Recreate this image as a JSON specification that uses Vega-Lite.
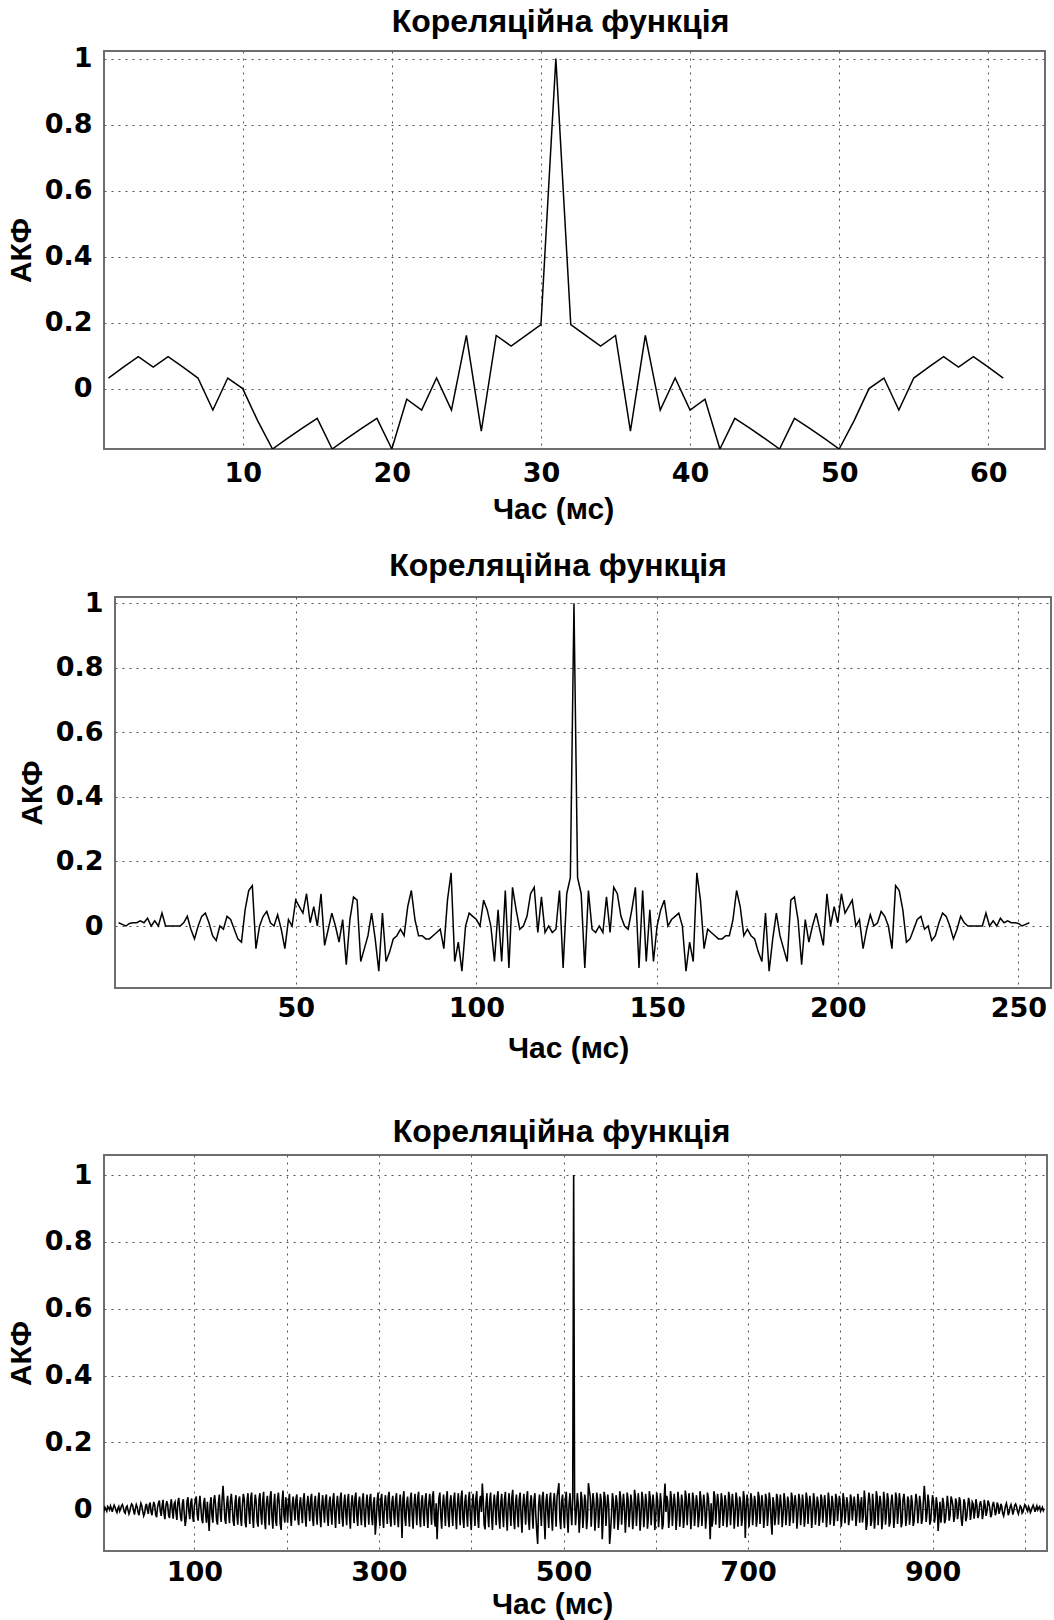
{
"$schema": "https://vega.github.io/schema/vega-lite/v6.json",
"background": "white",
"padding": {"left": 5, "top": 4, "right": 2, "bottom": 0},
"config": {
"font": "Liberation Sans",
"view": {"stroke": "#6e6e6e", "strokeWidth": 2},
"axis": {"labelFont": "DejaVu Sans", "labelFontSize": 27, "labelFontWeight": "bold", "titleFont": "Liberation Sans", "titleFontSize": 30, "titleFontWeight": "bold", "labelColor": "#000", "titleColor": "#000", "grid": true, "gridColor": "#555", "gridDash": [2, 5], "gridWidth": 1, "ticks": false, "domain": false},
"axisX": {"labelPadding": 11, "titlePadding": 8},
"axisY": {"labelPadding": 12, "titlePadding": 8},
"title": {"fontSize": 32, "fontWeight": "bold", "color": "#000", "offset": 6, "dx": -14},
"line": {"color": "#000", "strokeWidth": 1.5}
},
"datasets": {
"d1": [
{"x":1,"y":0.032},{"x":2,"y":0.065},{"x":3,"y":0.097},{"x":4,"y":0.065},{"x":5,"y":0.097},{"x":6,"y":0.065},{"x":7,"y":0.032},{"x":8,"y":-0.065},{"x":9,"y":0.032},{"x":10,"y":0.0},
{"x":11,"y":-0.097},{"x":12,"y":-0.183},{"x":13,"y":-0.151},{"x":14,"y":-0.12},{"x":15,"y":-0.09},{"x":16,"y":-0.183},{"x":17,"y":-0.151},{"x":18,"y":-0.12},{"x":19,"y":-0.09},{"x":20,"y":-0.183},
{"x":21,"y":-0.032},{"x":22,"y":-0.065},{"x":23,"y":0.032},{"x":24,"y":-0.065},{"x":25,"y":0.161},{"x":26,"y":-0.129},{"x":27,"y":0.161},{"x":28,"y":0.129},{"x":29,"y":0.161},{"x":30,"y":0.194},
{"x":31,"y":1.0},
{"x":32,"y":0.194},{"x":33,"y":0.161},{"x":34,"y":0.129},{"x":35,"y":0.161},{"x":36,"y":-0.129},{"x":37,"y":0.161},{"x":38,"y":-0.065},{"x":39,"y":0.032},{"x":40,"y":-0.065},{"x":41,"y":-0.032},
{"x":42,"y":-0.183},{"x":43,"y":-0.09},{"x":44,"y":-0.12},{"x":45,"y":-0.151},{"x":46,"y":-0.183},{"x":47,"y":-0.09},{"x":48,"y":-0.12},{"x":49,"y":-0.151},{"x":50,"y":-0.183},{"x":51,"y":-0.097},
{"x":52,"y":0.0},{"x":53,"y":0.032},{"x":54,"y":-0.065},{"x":55,"y":0.032},{"x":56,"y":0.065},{"x":57,"y":0.097},{"x":58,"y":0.065},{"x":59,"y":0.097},{"x":60,"y":0.065},{"x":61,"y":0.032}
],
"d2": [
{"x":1,"y":0.01},{"x":2,"y":0.005},{"x":3,"y":0.0},{"x":4,"y":0.008},{"x":5,"y":0.01},{"x":6,"y":0.01},{"x":7,"y":0.016},{"x":8,"y":0.01},{"x":9,"y":0.024},{"x":10,"y":0.0},
{"x":11,"y":0.016},{"x":12,"y":0.0},{"x":13,"y":0.04},{"x":14,"y":0.0},{"x":15,"y":0.0},{"x":16,"y":0.0},{"x":17,"y":0.0},{"x":18,"y":0.0},{"x":19,"y":0.01},{"x":20,"y":0.03},
{"x":21,"y":-0.01},{"x":22,"y":-0.04},{"x":23,"y":0.0},{"x":24,"y":0.03},{"x":25,"y":0.04},{"x":26,"y":0.01},{"x":27,"y":-0.03},{"x":28,"y":-0.045},{"x":29,"y":0.0},{"x":30,"y":-0.01},
{"x":31,"y":0.03},{"x":32,"y":0.02},{"x":33,"y":-0.01},{"x":34,"y":-0.04},{"x":35,"y":-0.05},{"x":36,"y":0.05},{"x":37,"y":0.11},{"x":38,"y":0.125},{"x":39,"y":-0.07},{"x":40,"y":0.0},
{"x":41,"y":0.03},{"x":42,"y":0.045},{"x":43,"y":0.01},{"x":44,"y":0.0},{"x":45,"y":0.035},{"x":46,"y":-0.01},{"x":47,"y":-0.07},{"x":48,"y":0.02},{"x":49,"y":0.0},{"x":50,"y":0.08},
{"x":51,"y":0.06},{"x":52,"y":0.04},{"x":53,"y":0.1},{"x":54,"y":0.01},{"x":55,"y":0.06},{"x":56,"y":0.0},{"x":57,"y":0.1},{"x":58,"y":-0.06},{"x":59,"y":-0.01},{"x":60,"y":0.04},
{"x":61,"y":0.0},{"x":62,"y":-0.05},{"x":63,"y":0.02},{"x":64,"y":-0.12},{"x":65,"y":0.02},{"x":66,"y":0.09},{"x":67,"y":0.08},{"x":68,"y":-0.11},{"x":69,"y":-0.07},{"x":70,"y":-0.03},
{"x":71,"y":0.04},{"x":72,"y":-0.04},{"x":73,"y":-0.14},{"x":74,"y":0.04},{"x":75,"y":-0.11},{"x":76,"y":-0.08},{"x":77,"y":-0.04},{"x":78,"y":-0.03},{"x":79,"y":-0.01},{"x":80,"y":-0.03},
{"x":81,"y":0.06},{"x":82,"y":0.11},{"x":83,"y":0.02},{"x":84,"y":-0.03},{"x":85,"y":-0.03},{"x":86,"y":-0.04},{"x":87,"y":-0.04},{"x":88,"y":-0.03},{"x":89,"y":-0.02},{"x":90,"y":-0.01},
{"x":91,"y":-0.07},{"x":92,"y":0.08},{"x":93,"y":0.165},{"x":94,"y":-0.11},{"x":95,"y":-0.05},{"x":96,"y":-0.14},{"x":97,"y":0.0},{"x":98,"y":0.04},{"x":99,"y":0.03},{"x":100,"y":0.02},
{"x":101,"y":0.0},{"x":102,"y":0.08},{"x":103,"y":0.05},{"x":104,"y":0.0},{"x":105,"y":-0.11},{"x":106,"y":0.05},{"x":107,"y":-0.11},{"x":108,"y":0.11},{"x":109,"y":-0.13},{"x":110,"y":0.12},
{"x":111,"y":0.05},{"x":112,"y":-0.01},{"x":113,"y":0.0},{"x":114,"y":0.03},{"x":115,"y":0.1},{"x":116,"y":0.12},{"x":117,"y":-0.02},{"x":118,"y":0.09},{"x":119,"y":-0.02},{"x":120,"y":0.0},
{"x":121,"y":-0.02},{"x":122,"y":-0.01},{"x":123,"y":0.11},{"x":124,"y":-0.13},{"x":125,"y":0.1},{"x":126,"y":0.15},{"x":127,"y":1.0},
{"x":128,"y":0.15},{"x":129,"y":0.1},{"x":130,"y":-0.13},{"x":131,"y":0.11},{"x":132,"y":-0.01},{"x":133,"y":-0.02},{"x":134,"y":0.0},{"x":135,"y":-0.02},{"x":136,"y":0.09},{"x":137,"y":-0.02},
{"x":138,"y":0.12},{"x":139,"y":0.1},{"x":140,"y":0.03},{"x":141,"y":0.0},{"x":142,"y":-0.01},{"x":143,"y":0.05},{"x":144,"y":0.12},{"x":145,"y":-0.13},{"x":146,"y":0.11},{"x":147,"y":-0.11},
{"x":148,"y":0.05},{"x":149,"y":-0.11},{"x":150,"y":0.0},{"x":151,"y":0.05},{"x":152,"y":0.08},{"x":153,"y":0.0},{"x":154,"y":0.02},{"x":155,"y":0.03},{"x":156,"y":0.04},{"x":157,"y":0.0},
{"x":158,"y":-0.14},{"x":159,"y":-0.05},{"x":160,"y":-0.11},{"x":161,"y":0.165},{"x":162,"y":0.08},{"x":163,"y":-0.07},{"x":164,"y":-0.01},{"x":165,"y":-0.02},{"x":166,"y":-0.03},{"x":167,"y":-0.04},
{"x":168,"y":-0.04},{"x":169,"y":-0.03},{"x":170,"y":-0.03},{"x":171,"y":0.02},{"x":172,"y":0.11},{"x":173,"y":0.06},{"x":174,"y":-0.03},{"x":175,"y":-0.01},{"x":176,"y":-0.03},{"x":177,"y":-0.04},
{"x":178,"y":-0.08},{"x":179,"y":-0.11},{"x":180,"y":0.04},{"x":181,"y":-0.14},{"x":182,"y":-0.04},{"x":183,"y":0.04},{"x":184,"y":-0.03},{"x":185,"y":-0.07},{"x":186,"y":-0.11},{"x":187,"y":0.08},
{"x":188,"y":0.09},{"x":189,"y":0.02},{"x":190,"y":-0.12},{"x":191,"y":0.02},{"x":192,"y":-0.05},{"x":193,"y":0.0},{"x":194,"y":0.04},{"x":195,"y":-0.01},{"x":196,"y":-0.06},{"x":197,"y":0.1},
{"x":198,"y":0.0},{"x":199,"y":0.06},{"x":200,"y":0.01},{"x":201,"y":0.1},{"x":202,"y":0.04},{"x":203,"y":0.06},{"x":204,"y":0.08},{"x":205,"y":0.0},{"x":206,"y":0.02},{"x":207,"y":-0.07},
{"x":208,"y":-0.01},{"x":209,"y":0.035},{"x":210,"y":0.0},{"x":211,"y":0.01},{"x":212,"y":0.045},{"x":213,"y":0.03},{"x":214,"y":0.0},{"x":215,"y":-0.07},{"x":216,"y":0.125},{"x":217,"y":0.11},
{"x":218,"y":0.05},{"x":219,"y":-0.05},{"x":220,"y":-0.04},{"x":221,"y":-0.01},{"x":222,"y":0.02},{"x":223,"y":0.03},{"x":224,"y":-0.01},{"x":225,"y":0.0},{"x":226,"y":-0.045},{"x":227,"y":-0.03},
{"x":228,"y":0.01},{"x":229,"y":0.04},{"x":230,"y":0.03},{"x":231,"y":0.0},{"x":232,"y":-0.04},{"x":233,"y":-0.01},{"x":234,"y":0.03},{"x":235,"y":0.01},{"x":236,"y":0.0},{"x":237,"y":0.0},
{"x":238,"y":0.0},{"x":239,"y":0.0},{"x":240,"y":0.0},{"x":241,"y":0.04},{"x":242,"y":0.0},{"x":243,"y":0.016},{"x":244,"y":0.0},{"x":245,"y":0.024},{"x":246,"y":0.01},{"x":247,"y":0.016},
{"x":248,"y":0.01},{"x":249,"y":0.01},{"x":250,"y":0.008},{"x":251,"y":0.0},{"x":252,"y":0.005},{"x":253,"y":0.01}
],
"d3": [
{"x":1,"y":0.002},{"x":2,"y":-0.004},{"x":3,"y":0.006},{"x":4,"y":0.0},{"x":5,"y":-0.006},{"x":6,"y":0.008},{"x":7,"y":0.004},{"x":8,"y":-0.002},{"x":9,"y":0.01},{"x":10,"y":0.002},
{"x":11,"y":-0.008},{"x":12,"y":0.004},{"x":13,"y":0.012},{"x":14,"y":0.006},{"x":15,"y":-0.004},{"x":16,"y":-0.01},{"x":17,"y":0.002},{"x":18,"y":0.008},{"x":19,"y":-0.006},{"x":20,"y":0.0},
{"x":21,"y":0.01},{"x":22,"y":0.014},{"x":23,"y":0.004},{"x":24,"y":-0.008},{"x":25,"y":-0.012},{"x":26,"y":0.006},{"x":27,"y":0.01},{"x":28,"y":-0.002},{"x":29,"y":-0.014},{"x":30,"y":-0.006},
{"x":31,"y":0.008},{"x":32,"y":0.016},{"x":33,"y":0.012},{"x":34,"y":-0.004},{"x":35,"y":-0.016},{"x":36,"y":0.002},{"x":37,"y":0.014},{"x":38,"y":0.006},{"x":39,"y":-0.01},{"x":40,"y":-0.018},
{"x":41,"y":0.004},{"x":42,"y":0.018},{"x":43,"y":0.01},{"x":44,"y":-0.006},{"x":45,"y":-0.02},{"x":46,"y":-0.012},{"x":47,"y":0.008},{"x":48,"y":0.016},{"x":49,"y":-0.002},{"x":50,"y":-0.014},
{"x":51,"y":0.012},{"x":52,"y":0.02},{"x":53,"y":-0.008},{"x":54,"y":-0.018},{"x":55,"y":0.006},{"x":56,"y":0.022},{"x":57,"y":0.012},{"x":58,"y":-0.016},{"x":59,"y":-0.024},{"x":60,"y":0.004},
{"x":61,"y":0.018},{"x":62,"y":0.026},{"x":63,"y":-0.006},{"x":64,"y":-0.02},{"x":65,"y":0.01},{"x":66,"y":0.028},{"x":67,"y":-0.012},{"x":68,"y":-0.03},{"x":69,"y":0.008},{"x":70,"y":0.024},
{"x":71,"y":0.014},{"x":72,"y":-0.018},{"x":73,"y":-0.026},{"x":74,"y":0.012},{"x":75,"y":0.03},{"x":76,"y":-0.004},{"x":77,"y":-0.028},{"x":78,"y":0.016},{"x":79,"y":0.022},{"x":80,"y":-0.01},
{"x":81,"y":-0.032},{"x":82,"y":0.02},{"x":83,"y":0.034},{"x":84,"y":0.006},{"x":85,"y":-0.024},{"x":86,"y":-0.036},{"x":87,"y":0.018},{"x":88,"y":0.03},{"x":89,"y":-0.014},{"x":90,"y":-0.05},
{"x":91,"y":-0.028},{"x":92,"y":0.024},{"x":93,"y":0.036},{"x":94,"y":-0.008},{"x":95,"y":-0.03},{"x":96,"y":0.02},{"x":97,"y":0.032},{"x":98,"y":-0.02},{"x":99,"y":-0.038},{"x":100,"y":0.01},
{"x":101,"y":0.028},{"x":102,"y":0.038},{"x":103,"y":-0.016},{"x":104,"y":-0.034},{"x":105,"y":0.012},{"x":106,"y":0.04},{"x":107,"y":0.004},{"x":108,"y":-0.03},{"x":109,"y":-0.042},{"x":110,"y":0.018},
{"x":111,"y":0.034},{"x":112,"y":-0.01},{"x":113,"y":-0.04},{"x":114,"y":0.022},{"x":115,"y":-0.024},{"x":116,"y":-0.065},{"x":117,"y":0.014},{"x":118,"y":0.036},{"x":119,"y":-0.018},{"x":120,"y":-0.04},
{"x":121,"y":0.026},{"x":122,"y":0.042},{"x":123,"y":0.008},{"x":124,"y":-0.034},{"x":125,"y":-0.046},{"x":126,"y":0.02},{"x":127,"y":0.044},{"x":128,"y":-0.012},{"x":129,"y":-0.038},{"x":130,"y":0.03},
{"x":131,"y":0.07},{"x":132,"y":0.024},{"x":133,"y":-0.03},{"x":134,"y":-0.044},{"x":135,"y":0.016},{"x":136,"y":0.04},{"x":137,"y":-0.008},{"x":138,"y":-0.042},{"x":139,"y":0.024},{"x":140,"y":0.046},
{"x":141,"y":0.01},{"x":142,"y":-0.036},{"x":143,"y":-0.05},{"x":144,"y":0.02},{"x":145,"y":0.042},{"x":146,"y":-0.018},{"x":147,"y":-0.046},{"x":148,"y":0.028},{"x":149,"y":0.038},{"x":150,"y":-0.024},
{"x":151,"y":-0.05},{"x":152,"y":0.012},{"x":153,"y":0.046},{"x":154,"y":0.03},{"x":155,"y":-0.04},{"x":156,"y":-0.054},{"x":157,"y":0.022},{"x":158,"y":0.048},{"x":159,"y":-0.006},{"x":160,"y":-0.044},
{"x":161,"y":0.034},{"x":162,"y":0.05},{"x":163,"y":-0.02},{"x":164,"y":-0.056},{"x":165,"y":0.008},{"x":166,"y":0.044},{"x":167,"y":0.02},{"x":168,"y":-0.038},{"x":169,"y":-0.052},{"x":170,"y":0.03},
{"x":171,"y":0.048},{"x":172,"y":-0.014},{"x":173,"y":-0.046},{"x":174,"y":0.026},{"x":175,"y":0.052},{"x":176,"y":-0.03},{"x":177,"y":-0.06},{"x":178,"y":0.016},{"x":179,"y":0.04},{"x":180,"y":0.006},
{"x":181,"y":-0.048},{"x":182,"y":0.036},{"x":183,"y":0.054},{"x":184,"y":-0.022},{"x":185,"y":-0.058},{"x":186,"y":0.01},{"x":187,"y":0.046},{"x":188,"y":-0.034},{"x":189,"y":-0.05},{"x":190,"y":0.028},
{"x":191,"y":0.05},{"x":192,"y":0.014},{"x":193,"y":-0.044},{"x":194,"y":-0.062},{"x":195,"y":0.024},{"x":196,"y":0.056},{"x":197,"y":-0.018},{"x":198,"y":-0.04},{"x":199,"y":0.036},{"x":200,"y":0.012},
{"x":201,"y":-0.04},{"x":202,"y":0.022},{"x":203,"y":0.046},{"x":204,"y":-0.018},{"x":205,"y":-0.05},{"x":206,"y":0.012},{"x":207,"y":0.038},{"x":208,"y":0.002},{"x":209,"y":-0.034},{"x":210,"y":0.03},
{"x":211,"y":0.044},{"x":212,"y":-0.024},{"x":213,"y":-0.048},{"x":214,"y":0.016},{"x":215,"y":0.036},{"x":216,"y":-0.006},{"x":217,"y":-0.042},{"x":218,"y":0.028},{"x":219,"y":0.048},{"x":220,"y":-0.02},
{"x":221,"y":-0.052},{"x":222,"y":0.014},{"x":223,"y":0.04},{"x":224,"y":0.004},{"x":225,"y":-0.036},{"x":226,"y":0.032},{"x":227,"y":0.046},{"x":228,"y":-0.026},{"x":229,"y":-0.05},{"x":230,"y":0.018},
{"x":231,"y":0.04},{"x":232,"y":-0.01},{"x":233,"y":-0.046},{"x":234,"y":0.024},{"x":235,"y":0.05},{"x":236,"y":-0.016},{"x":237,"y":-0.054},{"x":238,"y":0.01},{"x":239,"y":0.042},{"x":240,"y":0.0},
{"x":241,"y":-0.04},{"x":242,"y":0.03},{"x":243,"y":0.044},{"x":244,"y":-0.02},{"x":245,"y":-0.05},{"x":246,"y":0.02},{"x":247,"y":0.038},{"x":248,"y":-0.008},{"x":249,"y":-0.046},{"x":250,"y":0.026},
{"x":251,"y":0.048},{"x":252,"y":-0.014},{"x":253,"y":-0.056},{"x":254,"y":0.012},{"x":255,"y":0.04},{"x":256,"y":0.004},{"x":257,"y":-0.044},{"x":258,"y":0.032},{"x":259,"y":0.05},{"x":260,"y":-0.024},
{"x":261,"y":-0.052},{"x":262,"y":0.016},{"x":263,"y":0.044},{"x":264,"y":-0.008},{"x":265,"y":-0.048},{"x":266,"y":0.028},{"x":267,"y":0.046},{"x":268,"y":-0.018},{"x":269,"y":-0.058},{"x":270,"y":0.014},
{"x":271,"y":0.042},{"x":272,"y":0.006},{"x":273,"y":-0.042},{"x":274,"y":0.034},{"x":275,"y":0.05},{"x":276,"y":-0.022},{"x":277,"y":-0.05},{"x":278,"y":0.02},{"x":279,"y":0.038},{"x":280,"y":-0.012},
{"x":281,"y":-0.048},{"x":282,"y":0.026},{"x":283,"y":0.048},{"x":284,"y":-0.016},{"x":285,"y":-0.054},{"x":286,"y":0.01},{"x":287,"y":0.044},{"x":288,"y":0.002},{"x":289,"y":-0.046},{"x":290,"y":0.032},
{"x":291,"y":0.046},{"x":292,"y":-0.02},{"x":293,"y":-0.048},{"x":294,"y":0.018},{"x":295,"y":0.036},{"x":296,"y":-0.076},{"x":297,"y":-0.038},{"x":298,"y":0.024},{"x":299,"y":0.05},{"x":300,"y":-0.012},
{"x":301,"y":-0.05},{"x":302,"y":0.03},{"x":303,"y":0.046},{"x":304,"y":-0.02},{"x":305,"y":-0.056},{"x":306,"y":0.014},{"x":307,"y":0.042},{"x":308,"y":0.004},{"x":309,"y":-0.044},{"x":310,"y":0.036},
{"x":311,"y":0.052},{"x":312,"y":-0.026},{"x":313,"y":-0.052},{"x":314,"y":0.02},{"x":315,"y":0.04},{"x":316,"y":-0.01},{"x":317,"y":-0.048},{"x":318,"y":0.028},{"x":319,"y":0.048},{"x":320,"y":-0.018},
{"x":321,"y":-0.054},{"x":322,"y":0.012},{"x":323,"y":0.044},{"x":324,"y":0.0},{"x":325,"y":-0.086},{"x":326,"y":0.032},{"x":327,"y":0.054},{"x":328,"y":-0.024},{"x":329,"y":-0.05},{"x":330,"y":0.018},
{"x":331,"y":0.038},{"x":332,"y":-0.008},{"x":333,"y":-0.052},{"x":334,"y":0.03},{"x":335,"y":0.05},{"x":336,"y":-0.016},{"x":337,"y":-0.058},{"x":338,"y":0.012},{"x":339,"y":0.046},{"x":340,"y":0.004},
{"x":341,"y":-0.048},{"x":342,"y":0.034},{"x":343,"y":0.052},{"x":344,"y":-0.02},{"x":345,"y":-0.054},{"x":346,"y":0.022},{"x":347,"y":0.042},{"x":348,"y":-0.012},{"x":349,"y":-0.05},{"x":350,"y":0.026},
{"x":351,"y":0.048},{"x":352,"y":-0.014},{"x":353,"y":-0.056},{"x":354,"y":0.016},{"x":355,"y":0.046},{"x":356,"y":0.006},{"x":357,"y":-0.046},{"x":358,"y":0.038},{"x":359,"y":0.054},{"x":360,"y":-0.028},
{"x":361,"y":-0.052},{"x":362,"y":0.018},{"x":363,"y":-0.09},{"x":364,"y":-0.014},{"x":365,"y":0.034},{"x":366,"y":0.05},{"x":367,"y":-0.02},{"x":368,"y":-0.058},{"x":369,"y":0.012},{"x":370,"y":0.044},
{"x":371,"y":0.002},{"x":372,"y":-0.05},{"x":373,"y":0.03},{"x":374,"y":0.054},{"x":375,"y":-0.022},{"x":376,"y":-0.054},{"x":377,"y":0.02},{"x":378,"y":0.042},{"x":379,"y":-0.008},{"x":380,"y":-0.05},
{"x":381,"y":0.028},{"x":382,"y":0.05},{"x":383,"y":-0.016},{"x":384,"y":-0.06},{"x":385,"y":0.014},{"x":386,"y":0.048},{"x":387,"y":0.004},{"x":388,"y":-0.048},{"x":389,"y":0.036},{"x":390,"y":0.056},
{"x":391,"y":-0.026},{"x":392,"y":-0.056},{"x":393,"y":0.02},{"x":394,"y":0.044},{"x":395,"y":-0.012},{"x":396,"y":-0.052},{"x":397,"y":0.024},{"x":398,"y":0.052},{"x":399,"y":-0.018},{"x":400,"y":-0.062},
{"x":401,"y":0.012},{"x":402,"y":0.046},{"x":403,"y":0.002},{"x":404,"y":-0.05},{"x":405,"y":0.032},{"x":406,"y":0.054},{"x":407,"y":-0.022},{"x":408,"y":-0.056},{"x":409,"y":0.022},{"x":410,"y":0.04},
{"x":411,"y":-0.008},{"x":412,"y":0.077},{"x":413,"y":0.03},{"x":414,"y":-0.046},{"x":415,"y":-0.06},{"x":416,"y":0.016},{"x":417,"y":0.048},{"x":418,"y":-0.014},{"x":419,"y":-0.054},{"x":420,"y":0.026},
{"x":421,"y":0.05},{"x":422,"y":-0.02},{"x":423,"y":-0.062},{"x":424,"y":0.012},{"x":425,"y":0.044},{"x":426,"y":0.004},{"x":427,"y":-0.048},{"x":428,"y":0.034},{"x":429,"y":0.054},{"x":430,"y":-0.024},
{"x":431,"y":-0.058},{"x":432,"y":0.02},{"x":433,"y":0.046},{"x":434,"y":-0.01},{"x":435,"y":-0.054},{"x":436,"y":0.028},{"x":437,"y":0.052},{"x":438,"y":-0.016},{"x":439,"y":-0.064},{"x":440,"y":0.014},
{"x":441,"y":0.048},{"x":442,"y":0.0},{"x":443,"y":-0.05},{"x":444,"y":0.036},{"x":445,"y":0.058},{"x":446,"y":-0.026},{"x":447,"y":-0.06},{"x":448,"y":0.018},{"x":449,"y":0.044},{"x":450,"y":-0.012},
{"x":451,"y":-0.054},{"x":452,"y":0.03},{"x":453,"y":0.05},{"x":454,"y":-0.02},{"x":455,"y":-0.07},{"x":456,"y":0.01},{"x":457,"y":0.046},{"x":458,"y":0.004},{"x":459,"y":-0.046},{"x":460,"y":0.032},
{"x":461,"y":0.054},{"x":462,"y":-0.028},{"x":463,"y":-0.062},{"x":464,"y":0.02},{"x":465,"y":0.042},{"x":466,"y":-0.008},{"x":467,"y":-0.058},{"x":468,"y":0.026},{"x":469,"y":0.048},{"x":470,"y":-0.018},
{"x":471,"y":-0.066},{"x":472,"y":-0.104},{"x":473,"y":0.012},{"x":474,"y":0.044},{"x":475,"y":0.002},{"x":476,"y":-0.05},{"x":477,"y":0.036},{"x":478,"y":0.052},{"x":479,"y":-0.024},{"x":480,"y":-0.09},
{"x":481,"y":0.022},{"x":482,"y":0.046},{"x":483,"y":-0.012},{"x":484,"y":-0.056},{"x":485,"y":0.03},{"x":486,"y":0.05},{"x":487,"y":-0.02},{"x":488,"y":-0.064},{"x":489,"y":0.016},{"x":490,"y":0.048},
{"x":491,"y":0.004},{"x":492,"y":-0.052},{"x":493,"y":0.038},{"x":494,"y":0.056},{"x":495,"y":0.078},{"x":496,"y":-0.026},{"x":497,"y":-0.06},{"x":498,"y":0.024},{"x":499,"y":0.044},{"x":500,"y":-0.014},
{"x":501,"y":-0.056},{"x":502,"y":0.028},{"x":503,"y":0.052},{"x":504,"y":-0.022},{"x":505,"y":-0.07},{"x":506,"y":0.014},{"x":507,"y":0.048},{"x":508,"y":-0.006},{"x":509,"y":-0.048},{"x":510,"y":0.036},
{"x":511,"y":1.0},
{"x":512,"y":0.036},{"x":513,"y":-0.048},{"x":514,"y":-0.006},{"x":515,"y":0.048},{"x":516,"y":0.014},{"x":517,"y":-0.07},{"x":518,"y":-0.022},{"x":519,"y":0.052},{"x":520,"y":0.028},{"x":521,"y":-0.056},
{"x":522,"y":-0.014},{"x":523,"y":0.044},{"x":524,"y":0.024},{"x":525,"y":-0.06},{"x":526,"y":-0.026},{"x":527,"y":0.078},{"x":528,"y":0.056},{"x":529,"y":0.038},{"x":530,"y":-0.052},{"x":531,"y":0.004},
{"x":532,"y":0.048},{"x":533,"y":0.016},{"x":534,"y":-0.064},{"x":535,"y":-0.02},{"x":536,"y":0.05},{"x":537,"y":0.03},{"x":538,"y":-0.056},{"x":539,"y":-0.012},{"x":540,"y":0.046},{"x":541,"y":0.022},
{"x":542,"y":-0.09},{"x":543,"y":-0.024},{"x":544,"y":0.052},{"x":545,"y":0.036},{"x":546,"y":-0.05},{"x":547,"y":0.002},{"x":548,"y":0.044},{"x":549,"y":0.012},{"x":550,"y":-0.104},{"x":551,"y":-0.066},
{"x":552,"y":-0.018},{"x":553,"y":0.048},{"x":554,"y":0.026},{"x":555,"y":-0.058},{"x":556,"y":-0.008},{"x":557,"y":0.042},{"x":558,"y":0.02},{"x":559,"y":-0.062},{"x":560,"y":-0.028},{"x":561,"y":0.054},
{"x":562,"y":0.032},{"x":563,"y":-0.046},{"x":564,"y":0.004},{"x":565,"y":0.046},{"x":566,"y":0.01},{"x":567,"y":-0.07},{"x":568,"y":-0.02},{"x":569,"y":0.05},{"x":570,"y":0.03},{"x":571,"y":-0.054},
{"x":572,"y":-0.012},{"x":573,"y":0.044},{"x":574,"y":0.018},{"x":575,"y":-0.06},{"x":576,"y":-0.026},{"x":577,"y":0.058},{"x":578,"y":0.036},{"x":579,"y":-0.05},{"x":580,"y":0.0},{"x":581,"y":0.048},
{"x":582,"y":0.014},{"x":583,"y":-0.064},{"x":584,"y":-0.016},{"x":585,"y":0.052},{"x":586,"y":0.028},{"x":587,"y":-0.054},{"x":588,"y":-0.01},{"x":589,"y":0.046},{"x":590,"y":0.02},{"x":591,"y":-0.058},
{"x":592,"y":-0.024},{"x":593,"y":0.054},{"x":594,"y":0.034},{"x":595,"y":-0.048},{"x":596,"y":0.004},{"x":597,"y":0.044},{"x":598,"y":0.012},{"x":599,"y":-0.062},{"x":600,"y":-0.02},{"x":601,"y":0.05},
{"x":602,"y":0.026},{"x":603,"y":-0.054},{"x":604,"y":-0.014},{"x":605,"y":0.048},{"x":606,"y":0.016},{"x":607,"y":-0.06},{"x":608,"y":-0.046},{"x":609,"y":0.03},{"x":610,"y":0.077},{"x":611,"y":-0.008},
{"x":612,"y":0.04},{"x":613,"y":0.022},{"x":614,"y":-0.056},{"x":615,"y":-0.022},{"x":616,"y":0.054},{"x":617,"y":0.032},{"x":618,"y":-0.05},{"x":619,"y":0.002},{"x":620,"y":0.046},{"x":621,"y":0.012},
{"x":622,"y":-0.062},{"x":623,"y":-0.018},{"x":624,"y":0.052},{"x":625,"y":0.024},{"x":626,"y":-0.052},{"x":627,"y":-0.012},{"x":628,"y":0.044},{"x":629,"y":0.02},{"x":630,"y":-0.056},{"x":631,"y":-0.026},
{"x":632,"y":0.056},{"x":633,"y":0.036},{"x":634,"y":-0.048},{"x":635,"y":0.004},{"x":636,"y":0.048},{"x":637,"y":0.014},{"x":638,"y":-0.06},{"x":639,"y":-0.016},{"x":640,"y":0.05},{"x":641,"y":0.028},
{"x":642,"y":-0.05},{"x":643,"y":-0.008},{"x":644,"y":0.042},{"x":645,"y":0.02},{"x":646,"y":-0.054},{"x":647,"y":-0.022},{"x":648,"y":0.054},{"x":649,"y":0.03},{"x":650,"y":-0.05},{"x":651,"y":0.002},
{"x":652,"y":0.044},{"x":653,"y":0.012},{"x":654,"y":-0.058},{"x":655,"y":-0.02},{"x":656,"y":0.05},{"x":657,"y":0.034},{"x":658,"y":-0.014},{"x":659,"y":-0.09},{"x":660,"y":0.018},{"x":661,"y":-0.052},
{"x":662,"y":-0.028},{"x":663,"y":0.054},{"x":664,"y":0.038},{"x":665,"y":-0.046},{"x":666,"y":0.006},{"x":667,"y":0.046},{"x":668,"y":0.016},{"x":669,"y":-0.056},{"x":670,"y":-0.014},{"x":671,"y":0.048},
{"x":672,"y":0.026},{"x":673,"y":-0.05},{"x":674,"y":-0.012},{"x":675,"y":0.042},{"x":676,"y":0.022},{"x":677,"y":-0.054},{"x":678,"y":-0.02},{"x":679,"y":0.052},{"x":680,"y":0.034},{"x":681,"y":-0.048},
{"x":682,"y":0.004},{"x":683,"y":0.046},{"x":684,"y":0.012},{"x":685,"y":-0.058},{"x":686,"y":-0.016},{"x":687,"y":0.05},{"x":688,"y":0.03},{"x":689,"y":-0.052},{"x":690,"y":-0.008},{"x":691,"y":0.038},
{"x":692,"y":0.018},{"x":693,"y":-0.05},{"x":694,"y":-0.024},{"x":695,"y":0.054},{"x":696,"y":0.032},{"x":697,"y":-0.086},{"x":698,"y":0.0},{"x":699,"y":0.044},{"x":700,"y":0.012},{"x":701,"y":-0.054},
{"x":702,"y":-0.018},{"x":703,"y":0.048},{"x":704,"y":0.028},{"x":705,"y":-0.048},{"x":706,"y":-0.01},{"x":707,"y":0.04},{"x":708,"y":0.02},{"x":709,"y":-0.052},{"x":710,"y":-0.026},{"x":711,"y":0.052},
{"x":712,"y":0.036},{"x":713,"y":-0.044},{"x":714,"y":0.004},{"x":715,"y":0.042},{"x":716,"y":0.014},{"x":717,"y":-0.056},{"x":718,"y":-0.02},{"x":719,"y":0.046},{"x":720,"y":0.03},{"x":721,"y":-0.05},
{"x":722,"y":-0.012},{"x":723,"y":0.05},{"x":724,"y":0.024},{"x":725,"y":-0.038},{"x":726,"y":-0.076},{"x":727,"y":0.036},{"x":728,"y":0.018},{"x":729,"y":-0.048},{"x":730,"y":-0.02},{"x":731,"y":0.046},
{"x":732,"y":0.032},{"x":733,"y":-0.046},{"x":734,"y":0.002},{"x":735,"y":0.044},{"x":736,"y":0.01},{"x":737,"y":-0.054},{"x":738,"y":-0.016},{"x":739,"y":0.048},{"x":740,"y":0.026},{"x":741,"y":-0.048},
{"x":742,"y":-0.012},{"x":743,"y":0.038},{"x":744,"y":0.02},{"x":745,"y":-0.05},{"x":746,"y":-0.022},{"x":747,"y":0.05},{"x":748,"y":0.034},{"x":749,"y":-0.042},{"x":750,"y":0.006},{"x":751,"y":0.042},
{"x":752,"y":0.014},{"x":753,"y":-0.058},{"x":754,"y":-0.018},{"x":755,"y":0.046},{"x":756,"y":0.028},{"x":757,"y":-0.048},{"x":758,"y":-0.008},{"x":759,"y":0.044},{"x":760,"y":0.016},{"x":761,"y":-0.052},
{"x":762,"y":-0.024},{"x":763,"y":0.05},{"x":764,"y":0.032},{"x":765,"y":-0.044},{"x":766,"y":0.004},{"x":767,"y":0.04},{"x":768,"y":0.012},{"x":769,"y":-0.056},{"x":770,"y":-0.014},{"x":771,"y":0.048},
{"x":772,"y":0.026},{"x":773,"y":-0.046},{"x":774,"y":-0.008},{"x":775,"y":0.038},{"x":776,"y":0.02},{"x":777,"y":-0.05},{"x":778,"y":-0.02},{"x":779,"y":0.044},{"x":780,"y":0.03},{"x":781,"y":-0.04},
{"x":782,"y":0.0},{"x":783,"y":0.042},{"x":784,"y":0.01},{"x":785,"y":-0.054},{"x":786,"y":-0.016},{"x":787,"y":0.05},{"x":788,"y":0.024},{"x":789,"y":-0.046},{"x":790,"y":-0.01},{"x":791,"y":0.04},
{"x":792,"y":0.018},{"x":793,"y":-0.05},{"x":794,"y":-0.026},{"x":795,"y":0.046},{"x":796,"y":0.032},{"x":797,"y":-0.036},{"x":798,"y":0.004},{"x":799,"y":0.04},{"x":800,"y":0.014},{"x":801,"y":-0.052},
{"x":802,"y":-0.02},{"x":803,"y":0.048},{"x":804,"y":0.028},{"x":805,"y":-0.042},{"x":806,"y":-0.006},{"x":807,"y":0.036},{"x":808,"y":0.016},{"x":809,"y":-0.048},{"x":810,"y":-0.024},{"x":811,"y":0.044},
{"x":812,"y":0.03},{"x":813,"y":-0.034},{"x":814,"y":0.002},{"x":815,"y":0.038},{"x":816,"y":0.012},{"x":817,"y":-0.05},{"x":818,"y":-0.018},{"x":819,"y":0.046},{"x":820,"y":0.022},{"x":821,"y":-0.04},
{"x":822,"y":0.012},{"x":823,"y":0.036},{"x":824,"y":-0.04},{"x":825,"y":-0.018},{"x":826,"y":0.056},{"x":827,"y":0.024},{"x":828,"y":-0.062},{"x":829,"y":-0.044},{"x":830,"y":0.014},{"x":831,"y":0.05},
{"x":832,"y":0.028},{"x":833,"y":-0.05},{"x":834,"y":-0.034},{"x":835,"y":0.046},{"x":836,"y":0.01},{"x":837,"y":-0.058},{"x":838,"y":-0.022},{"x":839,"y":0.054},{"x":840,"y":0.036},{"x":841,"y":-0.048},
{"x":842,"y":0.006},{"x":843,"y":0.04},{"x":844,"y":0.016},{"x":845,"y":-0.06},{"x":846,"y":-0.03},{"x":847,"y":0.052},{"x":848,"y":0.026},{"x":849,"y":-0.046},{"x":850,"y":-0.014},{"x":851,"y":0.048},
{"x":852,"y":0.03},{"x":853,"y":-0.052},{"x":854,"y":-0.038},{"x":855,"y":0.02},{"x":856,"y":0.044},{"x":857,"y":0.008},{"x":858,"y":-0.056},{"x":859,"y":-0.02},{"x":860,"y":0.05},{"x":861,"y":0.034},
{"x":862,"y":-0.044},{"x":863,"y":-0.006},{"x":864,"y":0.048},{"x":865,"y":0.022},{"x":866,"y":-0.054},{"x":867,"y":-0.04},{"x":868,"y":0.03},{"x":869,"y":0.046},{"x":870,"y":0.012},{"x":871,"y":-0.05},
{"x":872,"y":-0.024},{"x":873,"y":0.038},{"x":874,"y":0.028},{"x":875,"y":-0.046},{"x":876,"y":-0.018},{"x":877,"y":0.042},{"x":878,"y":0.02},{"x":879,"y":-0.05},{"x":880,"y":-0.036},{"x":881,"y":0.01},
{"x":882,"y":0.046},{"x":883,"y":0.024},{"x":884,"y":-0.042},{"x":885,"y":-0.008},{"x":886,"y":0.04},{"x":887,"y":0.016},{"x":888,"y":-0.044},{"x":889,"y":-0.03},{"x":890,"y":0.024},{"x":891,"y":0.07},
{"x":892,"y":0.03},{"x":893,"y":-0.038},{"x":894,"y":-0.012},{"x":895,"y":0.044},{"x":896,"y":0.02},{"x":897,"y":-0.046},{"x":898,"y":-0.034},{"x":899,"y":0.008},{"x":900,"y":0.042},{"x":901,"y":0.026},
{"x":902,"y":-0.04},{"x":903,"y":-0.018},{"x":904,"y":0.036},{"x":905,"y":0.014},{"x":906,"y":-0.065},{"x":907,"y":-0.024},{"x":908,"y":0.022},{"x":909,"y":-0.04},{"x":910,"y":-0.01},{"x":911,"y":0.034},
{"x":912,"y":0.018},{"x":913,"y":-0.042},{"x":914,"y":-0.03},{"x":915,"y":0.004},{"x":916,"y":0.04},{"x":917,"y":0.012},{"x":918,"y":-0.034},{"x":919,"y":-0.016},{"x":920,"y":0.038},{"x":921,"y":0.028},
{"x":922,"y":0.01},{"x":923,"y":-0.038},{"x":924,"y":-0.02},{"x":925,"y":0.032},{"x":926,"y":0.02},{"x":927,"y":-0.03},{"x":928,"y":-0.008},{"x":929,"y":0.036},{"x":930,"y":0.024},{"x":931,"y":-0.028},
{"x":932,"y":-0.05},{"x":933,"y":-0.014},{"x":934,"y":0.03},{"x":935,"y":0.018},{"x":936,"y":-0.036},{"x":937,"y":-0.024},{"x":938,"y":0.006},{"x":939,"y":0.034},{"x":940,"y":0.02},{"x":941,"y":-0.032},
{"x":942,"y":-0.01},{"x":943,"y":0.022},{"x":944,"y":0.016},{"x":945,"y":-0.028},{"x":946,"y":-0.004},{"x":947,"y":0.03},{"x":948,"y":0.012},{"x":949,"y":-0.026},{"x":950,"y":-0.018},{"x":951,"y":0.014},
{"x":952,"y":0.024},{"x":953,"y":0.008},{"x":954,"y":-0.03},{"x":955,"y":-0.012},{"x":956,"y":0.028},{"x":957,"y":0.01},{"x":958,"y":-0.02},{"x":959,"y":-0.006},{"x":960,"y":0.026},{"x":961,"y":0.018},
{"x":962,"y":0.004},{"x":963,"y":-0.024},{"x":964,"y":-0.016},{"x":965,"y":0.012},{"x":966,"y":0.022},{"x":967,"y":0.006},{"x":968,"y":-0.018},{"x":969,"y":-0.008},{"x":970,"y":0.02},{"x":971,"y":0.012},
{"x":972,"y":-0.014},{"x":973,"y":-0.002},{"x":974,"y":0.016},{"x":975,"y":0.008},{"x":976,"y":-0.012},{"x":977,"y":-0.02},{"x":978,"y":-0.006},{"x":979,"y":0.01},{"x":980,"y":0.018},{"x":981,"y":0.004},
{"x":982,"y":-0.018},{"x":983,"y":-0.01},{"x":984,"y":0.006},{"x":985,"y":0.014},{"x":986,"y":0.002},{"x":987,"y":-0.016},{"x":988,"y":-0.004},{"x":989,"y":0.012},{"x":990,"y":0.016},{"x":991,"y":0.008},
{"x":992,"y":-0.006},{"x":993,"y":-0.014},{"x":994,"y":-0.002},{"x":995,"y":0.01},{"x":996,"y":0.006},{"x":997,"y":-0.012},{"x":998,"y":-0.008},{"x":999,"y":0.004},{"x":1000,"y":0.014},{"x":1001,"y":0.01},
{"x":1002,"y":0.0},{"x":1003,"y":-0.006},{"x":1004,"y":0.008},{"x":1005,"y":0.002},{"x":1006,"y":-0.01},{"x":1007,"y":-0.004},{"x":1008,"y":0.006},{"x":1009,"y":0.012},{"x":1010,"y":0.004},{"x":1011,"y":-0.008},
{"x":1012,"y":0.002},{"x":1013,"y":0.01},{"x":1014,"y":-0.002},{"x":1015,"y":0.004},{"x":1016,"y":0.008},{"x":1017,"y":-0.006},{"x":1018,"y":0.0},{"x":1019,"y":0.006},{"x":1020,"y":-0.004},{"x":1021,"y":0.002}
]
},
"spacing": 51,
"vconcat": [
{
"spacing": 24,
"vconcat": [
{
"width": 941, "height": 398,
"title": "Кореляційна функція",
"data": {"name": "d1"},
"mark": {"type": "line", "clip": true},
"encoding": {
"x": {"field": "x", "type": "quantitative", "scale": {"domain": [0.7, 63.8], "nice": false, "zero": false}, "axis": {"values": [10, 20, 30, 40, 50, 60], "title": "Час (мс)", "titleX": 449}},
"y": {"field": "y", "type": "quantitative", "scale": {"domain": [-0.183, 1.023], "nice": false, "zero": false}, "axis": {"values": [0, 0.2, 0.4, 0.6, 0.8, 1], "format": "~g", "title": "АКФ"}}
}
},
{
"spacing": 0,
"bounds": "flush",
"hconcat": [
{
"width": 11, "height": 391,
"data": {"values": []},
"mark": "point",
"view": {"stroke": null}
},
{
"width": 936, "height": 391,
"title": {"text": "Кореляційна функція", "dx": -25},
"data": {"name": "d2"},
"mark": {"type": "line", "clip": true},
"encoding": {
"x": {"field": "x", "type": "quantitative", "scale": {"domain": [0, 259], "nice": false, "zero": false}, "axis": {"values": [50, 100, 150, 200, 250], "title": "Час (мс)", "labelPadding": 7, "titlePadding": 12, "titleX": 453}},
"y": {"field": "y", "type": "quantitative", "scale": {"domain": [-0.192, 1.019], "nice": false, "zero": false}, "axis": {"values": [0, 0.2, 0.4, 0.6, 0.8, 1], "format": "~g", "title": "АКФ"}}
}
}
]
}
]
},
{
"width": 943, "height": 396,
"title": "Кореляційна функція",
"data": {"name": "d3"},
"mark": {"type": "line", "clip": true, "strokeWidth": 1.6},
"encoding": {
"x": {"field": "x", "type": "quantitative", "scale": {"domain": [2, 1024], "nice": false, "zero": false}, "axis": {"values": [100, 200, 300, 400, 500, 600, 700, 800, 900, 1000], "labelExpr": "datum.value % 200 == 100 ? datum.label : ''", "title": "Час (мс)", "labelPadding": 8, "titlePadding": 4, "titleX": 448}},
"y": {"field": "y", "type": "quantitative", "scale": {"domain": [-0.125, 1.06], "nice": false, "zero": false}, "axis": {"values": [0, 0.2, 0.4, 0.6, 0.8, 1], "format": "~g", "title": "АКФ"}}
}
}
]
}
